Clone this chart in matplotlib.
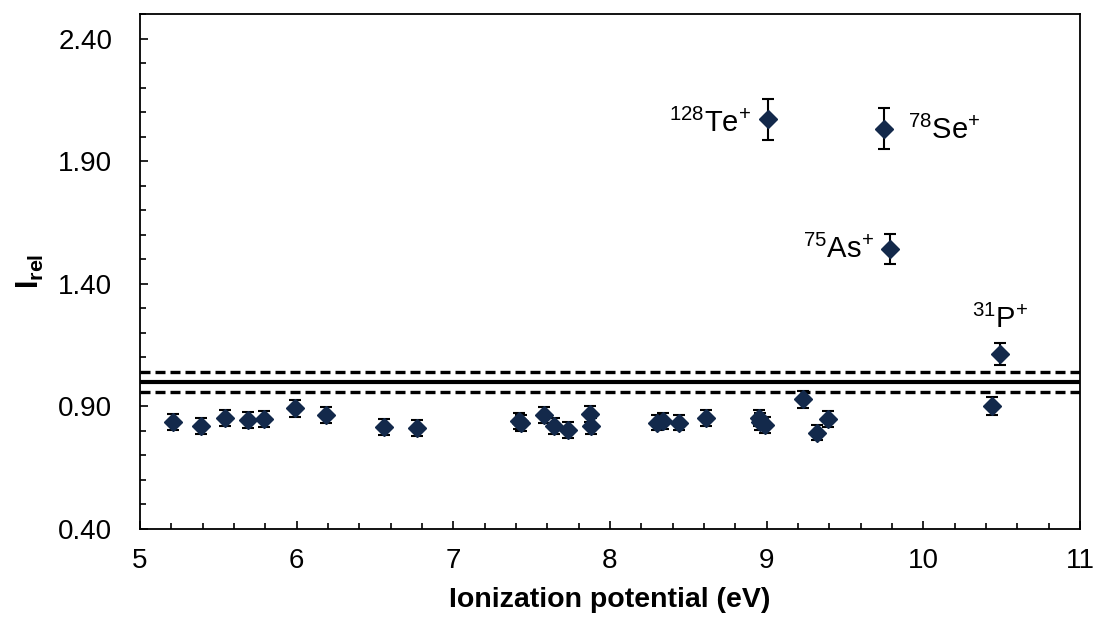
import numpy as np
import matplotlib.pyplot as plt
from matplotlib.ticker import FixedLocator, FormatStrFormatter

plt.rcParams['font.family'] = ['Liberation Sans', 'DejaVu Sans']
plt.rcParams['mathtext.fontset'] = 'custom'
plt.rcParams['mathtext.rm'] = 'Liberation Sans'
plt.rcParams['mathtext.bf'] = 'Liberation Sans:bold'

# ionization potential (eV), relative intensity, error
ip = [5.21, 5.39, 5.54, 5.69, 5.79, 5.99, 6.19, 6.56, 6.77,
      7.42, 7.43, 7.58, 7.64, 7.73, 7.87, 7.88, 8.30, 8.34, 8.44, 8.61,
      8.95, 8.96, 8.99, 9.01, 9.23, 9.32, 9.39, 9.75, 9.79, 10.44, 10.49]
irel = [0.835, 0.821, 0.854, 0.843, 0.849, 0.892, 0.864, 0.815, 0.811,
        0.840, 0.831, 0.865, 0.820, 0.803, 0.868, 0.820, 0.834, 0.842, 0.834, 0.853,
        0.852, 0.838, 0.823, 2.071, 0.929, 0.793, 0.850, 2.033, 1.542, 0.902, 1.112]
err = [0.033, 0.033, 0.033, 0.033, 0.033, 0.034, 0.033, 0.032, 0.032,
       0.033, 0.033, 0.033, 0.032, 0.032, 0.033, 0.032, 0.032, 0.033, 0.032, 0.033,
       0.033, 0.033, 0.032, 0.084, 0.034, 0.031, 0.033, 0.082, 0.060, 0.036, 0.045]

ref_level = 1.0
ref_band = [0.96, 1.04]

# labelled isotopes
lab_text = [r'$^{128}$Te$^{+}$', r'$^{78}$Se$^{+}$', r'$^{75}$As$^{+}$', r'$^{31}$P$^{+}$']
lab_x = [9.01, 9.75, 9.79, 10.49]
lab_y = [2.071, 2.033, 1.542, 1.112]
lab_off = [(-12, -3), (17, -1), (-12, 0), (0, 25)]
lab_ha = ['right', 'left', 'right', 'center']

yticks = [0.40, 0.90, 1.40, 1.90, 2.40]
xticks = [5, 6, 7, 8, 9, 10, 11]

fig = plt.figure(figsize=(10.99, 6.33), dpi=100)
ax = fig.add_axes([0.1274, 0.1643, 0.8553, 0.8136])

ax.axhline(ref_level, color='black', lw=3.0, zorder=2)
for b in ref_band:
    ax.axhline(b, color='black', lw=2.4, dashes=(3.0, 1.5), dash_capstyle='butt', zorder=2)

ax.errorbar(ip, irel, yerr=err, fmt='D', ms=9.5, color='#13294B', mec='#13294B',
            ecolor='black', elinewidth=1.5, capsize=4, capthick=1.5, zorder=3)

for t, x, y, off, ha in zip(lab_text, lab_x, lab_y, lab_off, lab_ha):
    ax.annotate(t, xy=(x, y), xytext=off, textcoords='offset points',
                ha=ha, va='center', fontsize=21)

ax.set_xlim(5, 11)
ax.set_ylim(0.4, 2.5)
ax.xaxis.set_major_locator(FixedLocator(xticks))
ax.xaxis.set_minor_locator(FixedLocator(np.arange(5, 11.01, 0.2)))
ax.yaxis.set_major_locator(FixedLocator(yticks))
ax.yaxis.set_minor_locator(FixedLocator(np.arange(0.4, 2.51, 0.1)))
ax.yaxis.set_major_formatter(FormatStrFormatter('%.2f'))
ax.tick_params(which='both', direction='in', labelsize=20, width=1.2)
ax.tick_params(which='major', length=6)
ax.tick_params(which='minor', length=4.5)
ax.tick_params(axis='y', which='major', pad=20)
ax.tick_params(axis='x', which='major', pad=14)
for s in ax.spines.values():
    s.set_linewidth(1.3)

ax.set_xlabel('Ionization potential (eV)', fontsize=20.5, fontweight='bold', labelpad=9)
ax.set_ylabel(r'$\mathbf{I_{rel}}$', fontsize=22, labelpad=9)

fig.savefig('out.png', dpi=100)
